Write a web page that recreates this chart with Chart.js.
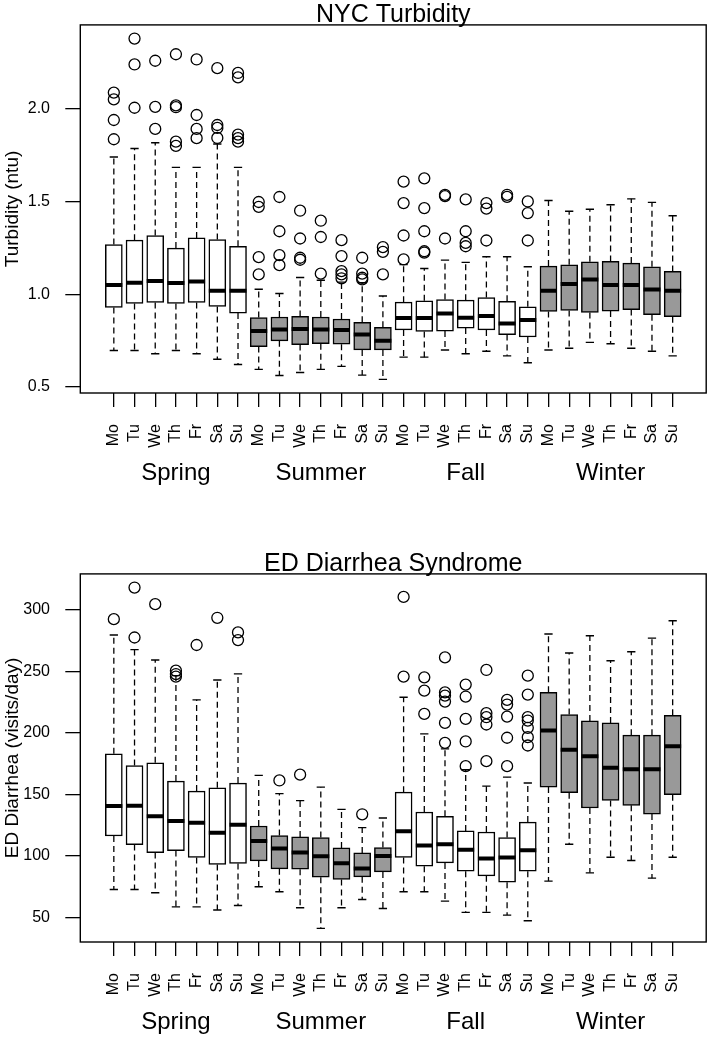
<!DOCTYPE html>
<html>
<head>
<meta charset="utf-8">
<title>NYC Turbidity / ED Diarrhea Syndrome</title>
<script src="https://cdn.jsdelivr.net/npm/chart.js@4.4.1/dist/chart.umd.min.js"></script>
<style>
  html, body { margin: 0; padding: 0; background: #fff; }
  #wrap { position: relative; width: 713px; height: 1037px; }
  canvas { position: absolute; left: 0; }
</style>
</head>
<body>
<div id="wrap">
  <canvas id="chart-turb" width="713" height="549" style="top:0"></canvas>
  <canvas id="chart-ed" width="713" height="488" style="top:549px"></canvas>
</div>
<script>
// categories
const seasons = ['Spring', 'Summer', 'Fall', 'Winter'];
const days = ['Mo', 'Tu', 'We', 'Th', 'Fr', 'Sa', 'Su'];
const seasonFill = ['#ffffff', '#999999', '#ffffff', '#999999'];

// NYC Turbidity (ntu) - 28 boxes, Spring Mo..Su, Summer, Fall, Winter
const turbTicks = [0.5, 1.0, 1.5, 2.0];
const turbQ1 = [0.928, 0.950, 0.955, 0.950, 0.955, 0.934, 0.898,
                0.717, 0.748, 0.728, 0.733, 0.730, 0.699, 0.699,
                0.807, 0.799, 0.801, 0.817, 0.807, 0.782, 0.769,
                0.907, 0.912, 0.901, 0.909, 0.917, 0.889, 0.878];
const turbMed = [1.050, 1.062, 1.071, 1.061, 1.068, 1.018, 1.018,
                 0.801, 0.810, 0.812, 0.810, 0.807, 0.782, 0.749,
                 0.871, 0.871, 0.896, 0.873, 0.882, 0.842, 0.860,
                 1.018, 1.055, 1.080, 1.050, 1.050, 1.025, 1.018];
const turbQ3 = [1.268, 1.292, 1.317, 1.249, 1.304, 1.295, 1.259,
                0.874, 0.877, 0.880, 0.877, 0.866, 0.848, 0.821,
                0.957, 0.964, 0.971, 0.968, 0.982, 0.962, 0.932,
                1.152, 1.159, 1.175, 1.177, 1.168, 1.148, 1.123];
const turbLo = [0.696, 0.696, 0.678, 0.696, 0.678, 0.649, 0.620,
                0.594, 0.561, 0.577, 0.594, 0.610, 0.563, 0.540,
                0.660, 0.660, 0.699, 0.678, 0.692, 0.667, 0.630,
                0.699, 0.708, 0.740, 0.732, 0.708, 0.692, 0.667];
const turbHi = [1.741, 1.787, 1.818, 1.685, 1.685, 1.811, 1.685,
                1.027, 1.004, 1.090, 1.075, 1.065, 1.062, 0.990,
                1.160, 1.139, 1.184, 1.172, 1.202, 1.202, 1.148,
                1.506, 1.448, 1.459, 1.483, 1.515, 1.496, 1.424];
const turbOut = [
  [2.089, 2.052, 1.941, 1.837], [2.381, 2.241, 2.007], [2.261, 2.012, 1.893],
  [2.296, 2.020, 2.010, 1.824, 1.801], [2.268, 1.968, 1.893, 1.843],
  [2.221, 1.914, 1.898, 1.844], [2.195, 2.171, 1.862, 1.843, 1.824],
  [1.498, 1.472, 1.200, 1.107], [1.525, 1.340, 1.211, 1.157], [1.451, 1.301, 1.197, 1.186],
  [1.397, 1.309, 1.111], [1.292, 1.206, 1.125, 1.107, 1.086], [1.197, 1.111, 1.089, 1.080],
  [1.254, 1.229, 1.107],
  [1.608, 1.492, 1.317, 1.188], [1.626, 1.465, 1.340, 1.232, 1.225], [1.537, 1.530, 1.301],
  [1.512, 1.340, 1.277, 1.259], [1.492, 1.462, 1.290], [1.537, 1.526], [1.501, 1.438, 1.290],
  [], [], [], [], [], [], []
];

// ED Diarrhea (visits/day)
const edTicks = [50, 100, 150, 200, 250, 300];
const edQ1 = [116.2, 109.2, 102.7, 104.3, 98.7, 93.0, 93.8,
              95.9, 89.5, 89.2, 82.7, 80.8, 83.0, 87.0,
              98.7, 91.6, 94.3, 87.6, 83.8, 78.6, 87.6,
              155.9, 151.4, 138.9, 145.1, 141.1, 134.0, 149.7];
const edMed = [140.5, 140.8, 132.2, 128.3, 127.0, 118.9, 125.4,
               112.1, 106.0, 102.7, 99.7, 94.0, 89.8, 100.0,
               120.0, 108.4, 109.5, 104.9, 97.8, 98.7, 104.6,
               201.9, 186.2, 181.0, 171.6, 170.5, 170.5, 189.2];
const edQ3 = [183.0, 173.5, 175.7, 160.8, 152.7, 155.4, 159.2,
              124.3, 116.5, 115.4, 114.9, 106.5, 102.4, 106.8,
              151.8, 135.7, 132.2, 120.3, 119.4, 114.9, 127.5,
              233.0, 214.9, 209.7, 208.1, 198.1, 198.1, 214.3];
const edLo = [72.7, 72.7, 70.0, 58.6, 58.6, 56.0, 59.7,
              74.9, 70.8, 57.8, 41.1, 57.8, 64.6, 57.3,
              70.8, 70.8, 63.2, 54.1, 54.1, 51.9, 47.3,
              79.5, 109.5, 86.2, 98.9, 96.2, 81.9, 98.9];
const edHi = [279.5, 267.6, 259.2, 246.5, 226.8, 243.0, 247.9,
              165.4, 150.6, 144.9, 155.9, 137.8, 123.0, 130.8,
              228.9, 199.2, 187.0, 170.0, 156.7, 164.0, 159.2,
              280.3, 264.9, 278.9, 258.6, 265.9, 277.0, 291.1];
const edOut = [
  [292.4], [318.1, 277.5], [304.6], [250.5, 247.8, 245.7], [271.4], [293.5], [281.6, 275.4],
  [], [161.3], [166.0], [], [], [133.8], [],
  [310.5, 245.7], [245.1, 234.3, 215.4], [261.3, 232.9, 230.3, 225.4, 208.1, 191.9],
  [239.2, 229.5, 211.4, 193.0, 172.9], [251.1, 216.0, 212.7, 206.8, 177.0],
  [226.8, 223.0, 213.2, 196.0, 172.9], [246.5, 231.1, 212.7, 210.0, 204.1, 196.5, 189.7],
  [], [], [], [], [], [], []
];

Chart.defaults.font.family = '"Liberation Sans", Arial, sans-serif';
Chart.defaults.color = '#000';

// R draws a full box around the plot region
const framePlugin = {
  id: 'frame',
  afterDraw(chart) {
    const { ctx, chartArea: a } = chart;
    ctx.save();
    ctx.strokeStyle = '#000';
    ctx.lineWidth = 1.4;
    ctx.strokeRect(a.left, a.top, a.right - a.left, a.bottom - a.top);
    ctx.restore();
  }
};

function buildDatasets(q1, med, q3, lo, hi, out) {
  const boxes = [], fills = [], whisk = [], caps = [], meds = [], pts = [];
  q1.forEach((v, i) => {
    const x = i + 1;
    boxes.push({ x, y: [v, q3[i]] });
    fills.push(seasonFill[Math.floor(i / 7)]);
    whisk.push({ x, y: q3[i] }, { x, y: hi[i] }, { x, y: null },
               { x, y: v }, { x, y: lo[i] }, { x, y: null });
    caps.push({ x: x - 0.2, y: hi[i] }, { x: x + 0.2, y: hi[i] }, { x, y: null },
              { x: x - 0.2, y: lo[i] }, { x: x + 0.2, y: lo[i] }, { x, y: null });
    meds.push({ x: x - 0.41, y: med[i] }, { x: x + 0.41, y: med[i] }, { x, y: null });
    out[i].forEach(o => pts.push({ x, y: o }));
  });
  return [
    { type: 'line', data: meds, borderColor: '#000', borderWidth: 4, pointRadius: 0,
      borderCapStyle: 'butt', xAxisID: 'x', yAxisID: 'y', order: 0 },
    { type: 'scatter', data: pts, pointStyle: 'circle', pointRadius: 5.5, borderColor: '#000',
      borderWidth: 1.3, backgroundColor: 'rgba(0,0,0,0)', xAxisID: 'x', yAxisID: 'y', order: 1 },
    { type: 'bar', data: boxes, backgroundColor: fills, borderColor: '#000', borderWidth: 1.5,
      borderSkipped: false, barThickness: 17, xAxisID: 'x', yAxisID: 'y', order: 2 },
    { type: 'line', data: whisk, borderColor: '#000', borderWidth: 1.3, borderDash: [6, 4],
      pointRadius: 0, xAxisID: 'x', yAxisID: 'y', order: 3 },
    { type: 'line', data: caps, borderColor: '#000', borderWidth: 1.4, pointRadius: 0,
      xAxisID: 'x', yAxisID: 'y', order: 3 }
  ];
}

function makeChart(id, title, yLabel, yTicks, decimals, q1, med, q3, lo, hi, out) {
  const canvas = document.getElementById(id);
  const all = lo.concat(hi, out.flat());
  const yMin = Math.min(...all), yMax = Math.max(...all);
  const yPad = (yMax - yMin) * 0.04;
  const xPad = 28 * 0.04;
  const frameBottom = 393;
  const xRange = { min: 0.5 - xPad, max: 28.5 + xPad };

  return new Chart(canvas, {
    type: 'bar',
    data: { datasets: buildDatasets(q1, med, q3, lo, hi, out) },
    options: {
      responsive: false,
      animation: false,
      devicePixelRatio: 1,
      layout: { padding: { left: 0, right: 3.7, top: 0, bottom: 0 } },
      plugins: { legend: { display: false }, tooltip: { enabled: false } },
      scales: {
        x: {
          type: 'linear', position: 'bottom', ...xRange, offset: false,
          afterBuildTicks: s => { s.ticks = q1.map((v, i) => ({ value: i + 1 })); },
          ticks: { autoSkip: false, minRotation: 90, maxRotation: 90, padding: 17,
                   font: { size: 16 }, callback: v => days[(v - 1) % 7] },
          grid: { drawOnChartArea: false, drawTicks: true, tickLength: 14, color: '#000',
                  lineWidth: 1.3, offset: false },
          border: { display: false },
          afterFit: s => { s.height = 60; }
        },
        season: {
          type: 'linear', position: 'bottom', weight: 1, ...xRange, offset: false,
          afterBuildTicks: s => { s.ticks = seasons.map((n, k) => ({ value: k * 7 + 4 })); },
          ticks: { autoSkip: false, maxRotation: 0, padding: 6, font: { size: 24 },
                   callback: v => seasons[(v - 4) / 7] },
          grid: { display: false, drawTicks: false },
          border: { display: false },
          afterFit: s => { s.height = canvas.height - frameBottom - 60; }
        },
        top: {
          type: 'linear', position: 'top', ...xRange,
          ticks: { display: false },
          grid: { display: false, drawTicks: false },
          border: { display: false },
          title: { display: true, text: title, font: { size: 25, lineHeight: 1 },
                   padding: { top: 1.5, bottom: 0 } },
          afterFit: s => { s.height = 23.3; }
        },
        y: {
          type: 'linear', position: 'left', min: yMin - yPad, max: yMax + yPad,
          afterBuildTicks: s => { s.ticks = yTicks.map(v => ({ value: v })); },
          ticks: { padding: 15.3, font: { size: 16 }, callback: v => v.toFixed(decimals) },
          grid: { drawOnChartArea: false, drawTicks: true, tickLength: 15, color: '#000',
                  lineWidth: 1.3 },
          border: { display: false },
          title: { display: true, text: yLabel, font: { size: 19 }, padding: { top: 1, bottom: 0 } },
          afterFit: s => { s.width = 80.3; }
        }
      }
    },
    plugins: [framePlugin]
  });
}

makeChart('chart-turb', 'NYC Turbidity', 'Turbidity (ntu)', turbTicks, 1,
          turbQ1, turbMed, turbQ3, turbLo, turbHi, turbOut);
makeChart('chart-ed', 'ED Diarrhea Syndrome', 'ED Diarrhea (visits/day)', edTicks, 0,
          edQ1, edMed, edQ3, edLo, edHi, edOut);
</script>
</body>
</html>
